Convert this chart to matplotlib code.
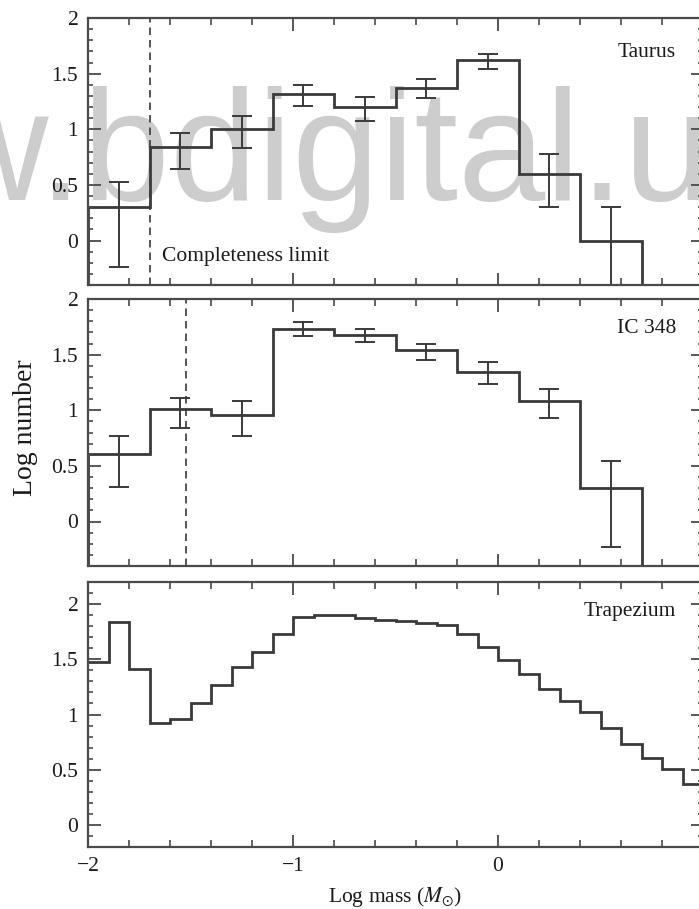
import numpy as np
import matplotlib
matplotlib.use("Agg")
import matplotlib.pyplot as plt
from matplotlib.ticker import MultipleLocator, FixedLocator

plt.rcParams['font.family'] = ['Liberation Serif', 'DejaVu Serif']
plt.rcParams['mathtext.fontset'] = 'stix'

# ---------------- data ----------------
# Taurus (0.3 dex bins)
taurus_edges = [-2.0, -1.7, -1.4, -1.1, -0.8, -0.5, -0.2, 0.1, 0.4, 0.7]
taurus_vals = [0.30, 0.84, 1.00, 1.32, 1.20, 1.37, 1.62, 0.60, 0.00]
taurus_err_hi = [0.53, 0.97, 1.12, 1.40, 1.29, 1.45, 1.68, 0.78, 0.30]
taurus_err_lo = [-0.24, 0.64, 0.83, 1.21, 1.07, 1.28, 1.54, 0.30, -1.0]
taurus_limit = -1.70

# IC 348 (0.3 dex bins)
ic348_edges = [-2.0, -1.7, -1.4, -1.1, -0.8, -0.5, -0.2, 0.1, 0.4, 0.7]
ic348_vals = [0.61, 1.01, 0.96, 1.73, 1.68, 1.54, 1.34, 1.08, 0.30]
ic348_err_hi = [0.77, 1.11, 1.08, 1.79, 1.73, 1.60, 1.43, 1.19, 0.54]
ic348_err_lo = [0.31, 0.84, 0.77, 1.67, 1.61, 1.45, 1.24, 0.93, -0.23]
ic348_limit = -1.52

# Trapezium (0.1 dex bins)
trap_edges = [-2.0, -1.9, -1.8, -1.7, -1.6, -1.5, -1.4, -1.3, -1.2, -1.1,
              -1.0, -0.9, -0.8, -0.7, -0.6, -0.5, -0.4, -0.3, -0.2, -0.1,
              0.0, 0.1, 0.2, 0.3, 0.4, 0.5, 0.6, 0.7, 0.8, 0.9, 1.0]
trap_vals = [1.48, 1.84, 1.41, 0.92, 0.96, 1.10, 1.27, 1.43, 1.57, 1.73,
             1.88, 1.90, 1.90, 1.87, 1.86, 1.85, 1.83, 1.81, 1.73, 1.61,
             1.49, 1.37, 1.23, 1.12, 1.02, 0.88, 0.73, 0.61, 0.51, 0.37]

region_names = ['Taurus', 'IC 348', 'Trapezium']
x_ticks = [-2, -1, 0]
x_major_all = [-2, -1, 0, 1]
y_ticks = [0, 0.5, 1, 1.5, 2]
y_tick_labels = ['0', '0.5', '1', '1.5', '2']

# ---------------- style ----------------
LINE = '#3a3a3a'
SPINE = '#4a4a4a'
TXT = '#1a1a1a'
FS = 15.5

W, H = 699, 909
fig = plt.figure(figsize=(W / 100, H / 100), dpi=100)
fig.patch.set_facecolor('white')

# watermark (behind the axes)
fig.text(-66 / W, 1 - 200 / H, 'w.bdigital.u', family='Liberation Sans',
         fontsize=113, color='#cdcdcd', ha='left', va='baseline', zorder=-5)

left = 88 / W
width = 615 / W
pos = [
    (285, 267),
    (566, 267),
    (847, 265),
]
axes = []
for bottom_px, h_px in pos:
    ax = fig.add_axes([left, 1 - bottom_px / H, width, h_px / H])
    ax.set_facecolor('none')
    axes.append(ax)


def style(ax, ylim):
    ax.set_xlim(-2, 1)
    ax.set_ylim(*ylim)
    ax.set_xticks(x_ticks)
    ax.xaxis.set_minor_locator(MultipleLocator(0.2))
    ax.set_yticks(y_ticks)
    ax.set_yticklabels(y_tick_labels)
    ax.yaxis.set_minor_locator(MultipleLocator(0.1))
    ax.tick_params(which='both', direction='in', top=True, right=True,
                   color=SPINE, labelcolor=TXT, labelsize=FS)
    ax.tick_params(which='major', length=9, width=1.3, pad=7)
    ax.tick_params(axis='x', which='minor', length=5, width=1.2)
    ax.tick_params(axis='y', which='minor', length=3.5, width=1.2)
    for s in ax.spines.values():
        s.set_color(SPINE)
        s.set_linewidth(1.6)


# Panel 1: Taurus
ax = axes[0]
ax.stairs(taurus_vals, taurus_edges, baseline=-1.0, color=LINE, lw=2.0)
c = 0.5 * (np.array(taurus_edges[:-1]) + np.array(taurus_edges[1:]))
v = np.array(taurus_vals)
ax.errorbar(c, v, yerr=[v - np.array(taurus_err_lo), np.array(taurus_err_hi) - v],
            fmt='none', ecolor=LINE, elinewidth=1.4, capsize=7, capthick=1.4)
ax.axvline(taurus_limit, color=LINE, lw=1.2, ls=(0, (4.5, 3)))
style(ax, (-0.4, 2.0))
ax.tick_params(labelbottom=False)
ax.text(0.956, 0.869, region_names[0], transform=ax.transAxes, ha='right',
        va='center', fontsize=FS, color=TXT)
ax.text(0.120, 0.105, 'Completeness limit', transform=ax.transAxes, ha='left',
        va='center', fontsize=FS, color=TXT)

# Panel 2: IC 348
ax = axes[1]
ax.stairs(ic348_vals, ic348_edges, baseline=-1.0, color=LINE, lw=2.0)
c = 0.5 * (np.array(ic348_edges[:-1]) + np.array(ic348_edges[1:]))
v = np.array(ic348_vals)
ax.errorbar(c, v, yerr=[v - np.array(ic348_err_lo), np.array(ic348_err_hi) - v],
            fmt='none', ecolor=LINE, elinewidth=1.4, capsize=7, capthick=1.4)
ax.axvline(ic348_limit, color=LINE, lw=1.2, ls=(0, (4.5, 3)))
style(ax, (-0.4, 2.0))
ax.tick_params(labelbottom=False)
ax.text(0.956, 0.888, region_names[1], transform=ax.transAxes, ha='right',
        va='center', fontsize=FS, color=TXT)

# Panel 3: Trapezium
ax = axes[2]
ax.stairs(trap_vals, trap_edges, baseline=None, color=LINE, lw=2.0)
style(ax, (-0.2, 2.2))
ax.text(0.956, 0.89, region_names[2], transform=ax.transAxes, ha='right',
        va='center', fontsize=FS, color=TXT)
ax.set_xlabel(r'Log mass ($M_{\odot}$)', fontsize=FS, color=TXT, labelpad=7)

fig.text(25 / W, 1 - 428 / H, 'Log number', rotation=90, ha='center',
         va='center', fontsize=FS + 4.5, color=TXT)

fig.savefig('out.png', dpi=100)
